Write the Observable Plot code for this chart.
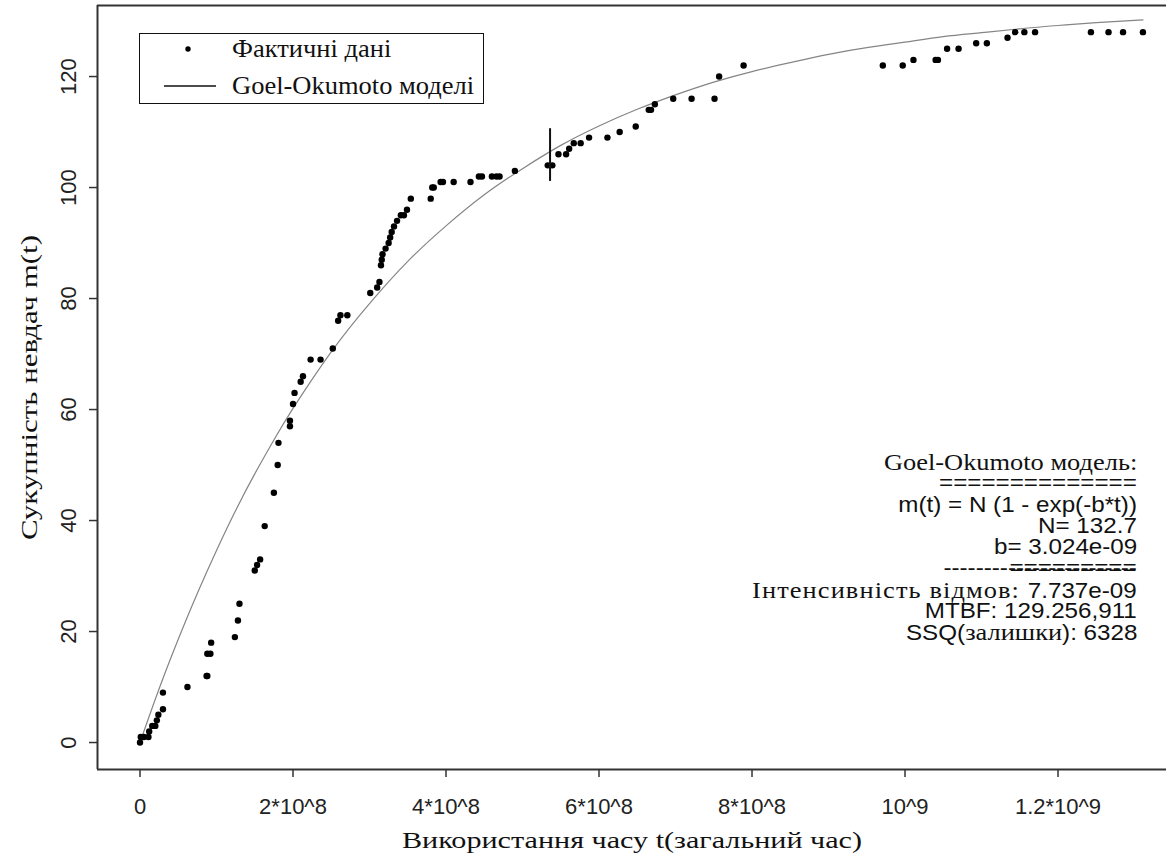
<!DOCTYPE html>
<html><head><meta charset="utf-8">
<script src="https://cdn.jsdelivr.net/npm/d3@7"></script>
<script src="https://cdn.jsdelivr.net/npm/@observablehq/plot@0.6"></script>
<style>
body{margin:0;background:#fff;}
#wrap{position:relative;width:1166px;height:859px;overflow:hidden;background:#fff;}
.serif{font-family:"Liberation Serif","Times New Roman",serif;}
.sans{font-family:"Liberation Sans",Arial,sans-serif;}
#legend{position:absolute;left:139px;top:33px;width:343px;height:69px;border:1.6px solid #111;background:#fff;}
#legend svg{position:absolute;left:0;top:0;}
.lrow{position:absolute;left:92px;height:30px;line-height:30px;font-size:25px;color:#111;white-space:nowrap;transform-origin:left center;}
.aline{position:absolute;right:29px;height:22px;line-height:22px;font-size:22px;color:#111;white-space:pre;text-align:right;transform-origin:right center;}
</style></head><body><div id="wrap"></div>
<script>
// ---- data (time in units of 10^8) ----
const xTicks = [0, 2, 4, 6, 8, 10, 12];
const xTickLabels = ["0", "2*10^8", "4*10^8", "6*10^8", "8*10^8", "10^9", "1.2*10^9"];
const yTicks = [0, 20, 40, 60, 80, 100, 120];

const failT = [0.00,0.01,0.05,0.11,0.12,0.16,0.20,0.22,0.24,0.30,0.30,0.62,0.87,0.88,0.88,0.92,0.93,1.24,1.28,1.30,
  1.50,1.53,1.57,1.63,1.75,1.80,1.81,1.96,1.96,2.00,2.02,2.10,2.13,2.23,2.36,2.52,2.59,2.62,2.71,
  3.01,3.10,3.13,3.15,3.16,3.17,3.21,3.25,3.27,3.29,3.32,3.36,3.41,3.45,3.49,3.54,3.80,3.82,3.84,
  3.93,3.96,4.10,4.32,4.43,4.47,4.60,4.66,4.70,4.90,5.33,5.39,5.47,5.57,5.61,5.67,5.76,5.87,6.11,
  6.27,6.48,6.65,6.68,6.73,6.97,7.21,7.51,7.57,7.89,9.71,9.97,10.11,10.40,10.43,10.55,10.70,10.93,
  11.07,11.34,11.44,11.56,11.70,12.43,12.66,12.85,13.11];
const failN = [0,1,1,1,2,3,3,4,5,6,9,10,12,12,16,16,18,19,22,25,
  31,32,33,39,45,50,54,57,58,61,63,65,66,69,69,71,76,77,77,
  81,82,83,86,87,88,89,90,91,92,93,94,95,95,96,98,98,100,100,
  101,101,101,101,102,102,102,102,102,103,104,104,106,106,107,108,108,109,109,
  110,111,114,114,115,116,116,116,120,122,122,122,123,123,123,125,125,126,
  126,127,128,128,128,128,128,128,128];

const curveT = [0.03,0.25,0.5,0.75,1,1.25,1.5,1.75,2,2.5,3,3.5,4,4.5,5,5.5,6,6.5,7,7.5,8,8.5,9,9.5,10,10.5,11,11.5,12,12.5,13.11];
const curveM = [1.2,9.7,18.6,26.9,34.6,41.8,48.4,54.5,60.2,70.4,79.1,86.7,93.1,98.7,103.4,107.6,111.1,114.1,116.7,119.0,120.9,122.5,124.0,125.2,126.2,127.2,127.9,128.6,129.2,129.7,130.2];

const markT = [5.36], markLo = [101.1], markHi = [110.6];

const legendLabels = ["Фактичні дані", "Goel-Okumoto моделі"];
const xTitle = "Використання часу t(загальний час)";
const yTitle = "Сукупність невдач m(t)";

// ---- build ----
const SERIF = '"Liberation Serif","Times New Roman",serif';
const SANS = '"Liberation Sans",Arial,sans-serif';
const xDomain = [-0.5556, 13.418];
const yDomain = [-4.86, 132.8];

const pts = failT.map((t, i) => ({t, n: failN[i]}));
const curve = curveT.map((t, i) => ({t, m: curveM[i]}));
const marks = markT.map((t, i) => ({t, lo: markLo[i], hi: markHi[i]}));

const plot = Plot.plot({
  width: 1166, height: 859,
  marginLeft: 97, marginRight: 0, marginTop: 5, marginBottom: 90,
  style: {fontFamily: SANS, fontSize: "22px", background: "#fff", color: "#111"},
  x: {domain: xDomain},
  y: {domain: yDomain},
  marks: [
    Plot.line(curve, {x: "t", y: "m", stroke: "#858585", strokeWidth: 1.2, curve: "natural"}),
    Plot.dot(pts, {x: "t", y: "n", r: 3.2, fill: "#000", stroke: "none"}),
    Plot.ruleX(marks, {x: "t", y1: "lo", y2: "hi", stroke: "#111", strokeWidth: 2}),
    Plot.ruleY([yDomain[0], yDomain[1]], {stroke: "#333", strokeWidth: 2}),
    Plot.ruleX([xDomain[0]], {stroke: "#333", strokeWidth: 2}),
    Plot.axisX({ticks: xTicks, tickSize: 8, tickPadding: 21, stroke: "#333", strokeWidth: 1.5,
      tickFormat: d => xTickLabels[xTicks.indexOf(d)], label: null, fontSize: 22, fill: "#222"}),
    Plot.axisY({ticks: yTicks, tickSize: 8, stroke: "#333", strokeWidth: 1.5, tickFormat: () => "", label: null}),
    Plot.text(yTicks, {y: d => d, text: d => String(d), frameAnchor: "left", dx: -29, rotate: -90,
      textAnchor: "middle", lineAnchor: "middle", fontSize: 22, fill: "#222"}),
    Plot.text([xTitle], {frameAnchor: "bottom", dy: 71, textAnchor: "middle", lineAnchor: "middle",
      fontFamily: SERIF, fontSize: 24, fill: "#111"}),
    Plot.text([yTitle], {frameAnchor: "left", dx: -68, rotate: -90, textAnchor: "middle", lineAnchor: "middle",
      fontFamily: SERIF, fontSize: 24, fill: "#111"})
  ]
});
const wrap = document.getElementById("wrap");
wrap.appendChild(plot);

// stretch the serif axis titles to the reference's wider setting
function stretchText(content, targetLen) {
  d3.select(plot).selectAll("text").filter(function () { return this.textContent === content; })
    .attr("textLength", targetLen).attr("lengthAdjust", "spacingAndGlyphs");
}
stretchText(xTitle, 460);
stretchText(yTitle, 305);

// ---- legend ----
const lg = document.createElement("div");
lg.id = "legend";
lg.innerHTML = `<svg width="343" height="69">
  <circle cx="48" cy="15" r="2.7" fill="#000"/>
  <line x1="24" x2="76" y1="52" y2="52" stroke="#111" stroke-width="1.6"/>
</svg>
<div class="lrow serif" style="top:0px;transform:scaleX(1.06)">${legendLabels[0]}</div>
<div class="lrow serif" style="top:37px;transform:scaleX(1.06)">${legendLabels[1]}</div>`;
wrap.appendChild(lg);

// ---- annotation ----
const annot = [
  [["serif", "Goel-Okumoto модель:", 24, 0]],
  [["sans", "==============", 22, 0]],
  [["sans", "m(t) = N (1 - exp(-b*t))", 22, 0]],
  [["sans", "N= 132.7", 22, 0]],
  [["sans", "b= 3.024e-09", 22, 0]],
  [["sans", "------------------------", 22, 0]],
  [["serif", "Інтенсивність відмов: ", 24, 1], ["sans", "7.737e-09", 22, 0]],
  [["sans", "MTBF: 129.256,911", 22, 0]],
  [["sans", "SSQ(", 22, 0], ["serif", "залишки", 24, 0], ["sans", "): 6328", 22, 0]]
];
const top0 = 451, step = 21.25, annScale = 1.1;
annot.forEach((parts, i) => {
  const d = document.createElement("div");
  d.className = "aline";
  d.style.top = (top0 + i * step) + "px";
  d.style.transform = `scaleX(${annScale})`;
  d.innerHTML = parts.map(([cls, txt, fs, ls]) =>
    `<span class="${cls}" style="font-size:${fs}px;letter-spacing:${ls}px">${txt}</span>`).join("");
  wrap.appendChild(d);
  if (i === 5) {
    const e = document.createElement("div");
    e.className = "aline sans";
    e.style.top = (top0 + i * step) + "px";
    e.style.transform = `scaleX(${annScale})`;
    e.textContent = "=========";
    wrap.appendChild(e);
  }
});
</script>
</body></html>
